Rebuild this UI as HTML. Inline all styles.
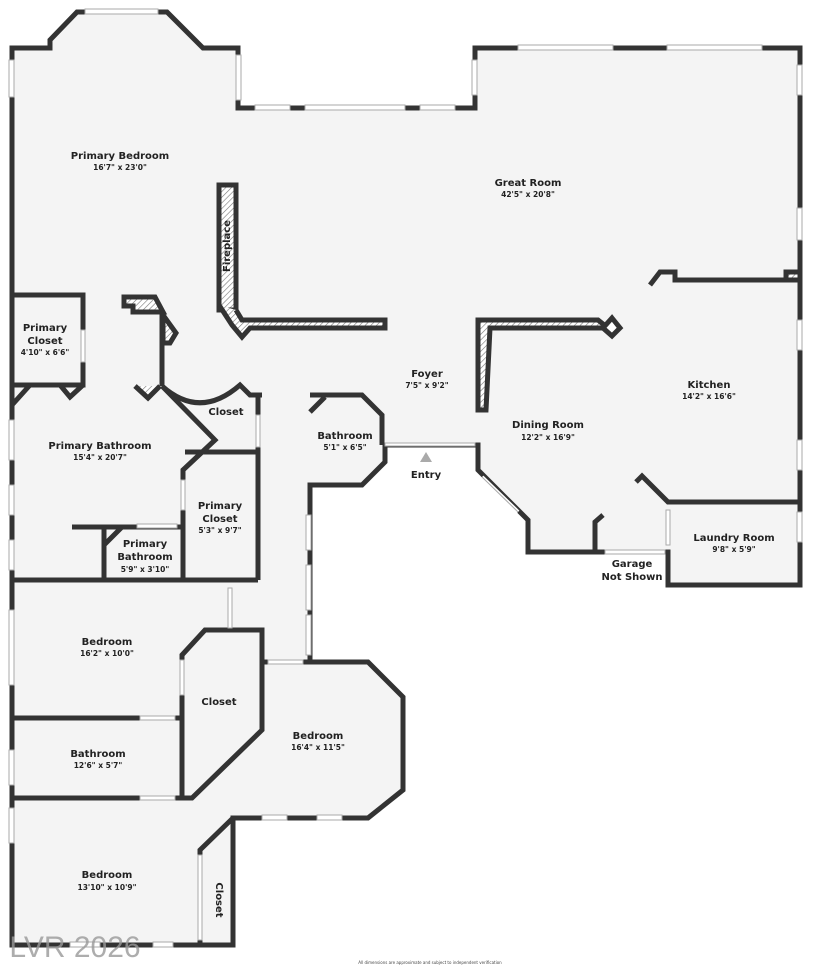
<!DOCTYPE html>
<html><head><meta charset="utf-8"><style>
html,body{margin:0;padding:0;background:#fff;}
svg{display:block}
text{font-family:"DejaVu Sans","Liberation Sans",sans-serif;fill:#222;text-anchor:middle}
.t{font-size:10px;font-weight:bold}
.s{font-size:7.5px;font-weight:bold}
</style></head><body>
<svg width="813" height="967" viewBox="0 0 813 967" xmlns="http://www.w3.org/2000/svg">
<defs>
<pattern id="h" width="4" height="4" patternUnits="userSpaceOnUse" patternTransform="rotate(45)">
<rect width="4" height="4" fill="#fff"/><line x1="0" y1="0" x2="0" y2="4" stroke="#777" stroke-width="1.2"/></pattern>
</defs>
<g stroke="#333" stroke-width="5" fill="none" stroke-linejoin="miter">
<polygon fill="#f4f4f4" points="12,48 50,48 50,40 77,12 167,12 203,48 238,48 238,108 475,108 475,48 800,48 800,585 668,585 668,552 528,552 528,520 478,470 478,445 385,445 385,462 362,485 310,485 310,662 368,662 403,697 403,790 368,818 233,818 233,945 12,945"/>
<!-- fireplace -->
<rect x="219" y="185" width="17" height="125" fill="url(#h)"/>
<path d="M236,310 L242,320 L385,320 L385,328 L250,328 L242,337 L232,325 L219,305" fill="url(#h)"/>
<!-- primary closet -->
<polyline points="12,295 83,295 83,385 12,385"/>
<polyline points="12,405 30,385"/>
<polyline points="60,385 70,397 83,385"/>
<!-- hall bits -->
<polygon points="124,297 155,297 163,312 133,312 133,306 124,306" fill="url(#h)"/>
<polygon points="163,315 176,333 170,343 163,343" fill="url(#h)"/>
<line x1="162" y1="312" x2="162" y2="386"/>
<polyline points="135,386 148,398 160,386" fill="url(#h)"/>
<path d="M162,386 Q200,420 240,385 L250,395 L262,395"/>
<line x1="258" y1="395" x2="258" y2="580"/>
<!-- primary bath -->
<polyline points="162,386 215,440 183,470 183,580"/>
<polyline points="185,452 258,452"/>
<line x1="12" y1="580" x2="258" y2="580"/>
<polyline points="72,527 182,527"/>
<polyline points="104,527 104,580"/>
<polyline points="104,545 122,527"/>
<!-- bedrooms -->
<line x1="12" y1="718" x2="182" y2="718"/>
<polygon points="205,630 262,630 262,730 192,798 182,798 182,655"/>
<line x1="12" y1="798" x2="192" y2="798"/>
<polyline points="262,662 310,662"/>
<polyline points="233,818 200,850 200,945"/>
<!-- bath small -->
<polyline points="310,395 362,395 382,415 382,445"/>
<polyline points="310,412 325,397"/>
<!-- dining / kitchen -->
<path d="M478,410 L478,320 L598,320 L608,328 L490,328 L486,410 Z" fill="url(#h)"/>
<polygon points="612,318 620,328 612,336 603,328" fill="#fff"/>
<polyline points="650,285 660,272 675,272 675,280 800,280"/>
<rect x="786" y="272" width="14" height="8" fill="url(#h)"/>
<polyline points="636,482 642,476 668,502 800,502"/>
<polyline points="595,552 595,522 603,515"/>
</g>
<!-- windows -->
<g fill="#fff" stroke="#aaa" stroke-width="1">
<rect x="85" y="9" width="73" height="5"/>
<rect x="255" y="105" width="35" height="5"/><rect x="305" y="105" width="100" height="5"/><rect x="420" y="105" width="35" height="5"/>
<rect x="518" y="45" width="95" height="5"/><rect x="667" y="45" width="95" height="5"/>
<rect x="797" y="65" width="5" height="30"/><rect x="797" y="208" width="5" height="32"/><rect x="797" y="320" width="5" height="30"/><rect x="797" y="440" width="5" height="30"/><rect x="797" y="512" width="5" height="30"/>
<rect x="9" y="60" width="5" height="37"/><rect x="9" y="420" width="5" height="40"/><rect x="9" y="485" width="5" height="30"/><rect x="9" y="540" width="5" height="30"/><rect x="9" y="610" width="5" height="75"/><rect x="9" y="750" width="5" height="35"/><rect x="9" y="808" width="5" height="35"/>
<rect x="236" y="55" width="5" height="45"/><rect x="472" y="60" width="5" height="35"/>
<rect x="306" y="515" width="5" height="35"/><rect x="306" y="565" width="5" height="45"/><rect x="306" y="615" width="5" height="40"/>
<rect x="262" y="815" width="25" height="5"/><rect x="317" y="815" width="25" height="5"/><rect x="153" y="942" width="20" height="5"/><rect x="70" y="942" width="30" height="5"/>
<rect x="385" y="443" width="90" height="3"/><rect x="605" y="550" width="60" height="4"/><rect x="666" y="510" width="4" height="35"/>
<rect x="81" y="330" width="4" height="32"/><rect x="256" y="415" width="4" height="32"/><rect x="181" y="480" width="4" height="30"/><rect x="228" y="588" width="4" height="40"/><rect x="180" y="660" width="4" height="35"/><rect x="140" y="716" width="35" height="4"/><rect x="140" y="796" width="35" height="4"/><rect x="198" y="855" width="4" height="85"/><rect x="268" y="660" width="35" height="4"/><rect x="137" y="524" width="40" height="4"/>
</g>
<line x1="482" y1="477" x2="518" y2="512" stroke="#fff" stroke-width="4"/>
<line x1="482" y1="477" x2="518" y2="512" stroke="#aaa" stroke-width="1"/>
<polygon points="420,462 426,452 432,462" fill="#aaa"/>
<text class="t" x="120" y="159">Primary Bedroom</text><text class="s" x="120" y="170">16'7" x 23'0"</text>
<text class="t" x="528" y="186">Great Room</text><text class="s" x="528" y="197">42'5" x 20'8"</text>
<text class="t" transform="translate(230,246) rotate(-90)">Fireplace</text>
<text class="t" x="45" y="331">Primary</text><text class="t" x="45" y="344">Closet</text><text class="s" x="45" y="355">4'10" x 6'6"</text>
<text class="t" x="427" y="377">Foyer</text><text class="s" x="427" y="388">7'5" x 9'2"</text>
<text class="t" x="709" y="388">Kitchen</text><text class="s" x="709" y="399">14'2" x 16'6"</text>
<text class="t" x="226" y="415">Closet</text>
<text class="t" x="345" y="439">Bathroom</text><text class="s" x="345" y="450">5'1" x 6'5"</text>
<text class="t" x="548" y="428">Dining Room</text><text class="s" x="548" y="440">12'2" x 16'9"</text>
<text class="t" x="100" y="449">Primary Bathroom</text><text class="s" x="100" y="460">15'4" x 20'7"</text>
<text class="t" x="426" y="478">Entry</text>
<text class="t" x="220" y="509">Primary</text><text class="t" x="220" y="522">Closet</text><text class="s" x="220" y="533">5'3" x 9'7"</text>
<text class="t" x="734" y="541">Laundry Room</text><text class="s" x="734" y="552">9'8" x 5'9"</text>
<text class="t" x="145" y="547">Primary</text><text class="t" x="145" y="560">Bathroom</text><text class="s" x="145" y="572">5'9" x 3'10"</text>
<text class="t" x="632" y="567">Garage</text><text class="t" x="632" y="580">Not Shown</text>
<text class="t" x="107" y="645">Bedroom</text><text class="s" x="107" y="656">16'2" x 10'0"</text>
<text class="t" x="219" y="705">Closet</text>
<text class="t" x="318" y="739">Bedroom</text><text class="s" x="318" y="750">16'4" x 11'5"</text>
<text class="t" x="98" y="757">Bathroom</text><text class="s" x="98" y="768">12'6" x 5'7"</text>
<text class="t" x="107" y="878">Bedroom</text><text class="s" x="107" y="890">13'10" x 10'9"</text>
<text class="t" transform="translate(216,900) rotate(90)">Closet</text>
<text x="75" y="957" style="font-size:30px;fill:#999;opacity:0.8;font-family:'Liberation Sans',sans-serif">LVR 2026</text>
<text x="430" y="964" style="font-size:4px;fill:#444">All dimensions are approximate and subject to independent verification</text>
</svg>
</body></html>
